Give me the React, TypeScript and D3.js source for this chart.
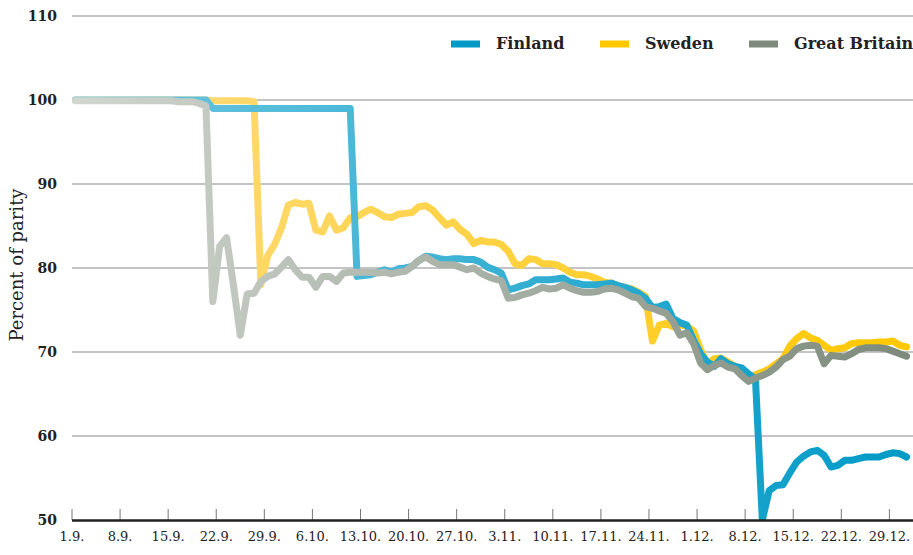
import React from "react";
import * as d3 from "d3";

// daily values, 1.9.1931 - 31.12.1931, percent of parity
const startDate = new Date(1931, 8, 1);
const endDate = new Date(1932, 0, 1);

const finland = [
  100, 100, 100, 100, 100, 100, 100, 100, 100, 100,
  100, 100, 100, 100, 100, 100, 100, 100, 100, 100,
  99, 99, 99, 99, 99, 99, 99, 99, 99, 99,
  99, 99, 99, 99, 99, 99, 99, 99, 99, 99, 99,
  79.0, 79.1, 79.2, 79.5, 79.8, 79.5, 79.9, 80.0, 80.2, 80.9,
  81.4, 81.3, 81.1, 81.0, 81.1, 81.1, 81.0, 81.0, 80.7, 80.1,
  79.8, 79.4, 77.4, 77.6, 77.9, 78.1, 78.6, 78.6, 78.6, 78.7,
  78.8, 78.3, 78.2, 78.0, 78.0, 78.0, 78.1, 78.2, 77.9, 77.7,
  77.4, 77.0, 76.4, 75.3, 75.4, 75.7, 74.0, 73.5, 73.2, 71.4,
  69.8, 68.8, 68.3, 69.2, 68.6, 68.3, 68.1, 67.4, 66.8, 50.0,
  53.5, 54.1, 54.2, 55.6, 56.9, 57.6, 58.1, 58.3, 57.7, 56.3,
  56.5, 57.1, 57.1, 57.3, 57.5, 57.5, 57.5, 57.8, 58.0, 57.9,
  57.5,
];

const sweden = [
  100, 100, 100, 100, 100, 100, 100, 100, 100, 100,
  100, 100, 100, 100, 100, 100, 100, 100, 100, 100,
  99.9, 99.9, 99.9, 99.9, 99.9, 99.9, 99.8,
  78.0, 81.5, 82.8, 84.8,
  87.5, 87.8, 87.6, 87.7, 84.5, 84.3, 86.2, 84.5, 84.8, 86.0,
  86.1, 86.6, 87.0, 86.6, 86.1, 86.0, 86.4, 86.5, 86.6, 87.3,
  87.4, 86.9, 86.0, 85.1, 85.5, 84.6, 84.0, 82.9, 83.3, 83.1,
  83.1, 82.8, 82.0, 80.5, 80.3, 81.1, 81.0, 80.5, 80.5, 80.4,
  80.0, 79.5, 79.2, 79.2, 79.0, 78.7, 78.3, 78.2, 77.9, 77.7,
  77.5, 77.1, 76.6, 71.3, 73.2, 73.4, 73.0, 73.2, 73.1, 72.5,
  70.3, 68.6, 69.2, 69.3, 68.8, 68.3, 67.8, 66.8, 67.3, 67.6,
  68.0, 68.6, 69.2, 70.7, 71.6, 72.2, 71.7, 71.4, 70.8, 70.2,
  70.4, 70.5, 71.0, 71.1, 71.1, 71.1, 71.2, 71.2, 71.3, 70.8,
  70.6,
];

const britain = [
  99.9, 99.9, 99.9, 99.9, 99.9, 99.9, 99.9, 99.9, 99.9, 99.9,
  99.9, 99.9, 99.9, 99.9, 99.9, 99.8, 99.8, 99.8, 99.6, 99.3,
  76.0, 82.6, 83.6, 78.0, 72.0, 76.9, 77.0, 78.4, 79.0, 79.3,
  80.1, 81.0, 79.8, 78.9, 78.9, 77.7, 79.0, 79.0, 78.4, 79.4,
  79.5, 79.5, 79.5, 79.5, 79.4, 79.5, 79.3, 79.5, 79.6, 80.2,
  80.9, 81.3, 80.8, 80.4, 80.4, 80.4, 80.1, 79.8, 80.0, 79.4,
  79.0, 78.7, 78.5, 76.4, 76.5, 76.8, 77.0, 77.3, 77.7, 77.5,
  77.6, 78.0, 77.6, 77.3, 77.1, 77.1, 77.2, 77.5, 77.6, 77.4,
  77.0, 76.6, 76.4, 75.4, 75.2, 74.9, 74.6, 73.6, 72.0, 72.3,
  71.0, 68.7, 67.9, 68.4, 68.7, 68.2, 68.0, 67.2, 66.5, 66.9,
  67.2, 67.6, 68.2, 69.1, 69.5, 70.4, 70.7, 70.8, 70.7, 68.6,
  69.6, 69.5, 69.4, 69.8, 70.3, 70.5, 70.5, 70.5, 70.4, 70.1,
  69.8, 69.5,
];

const yTicks = [50, 60, 70, 80, 90, 100, 110];
const legendNames = ["Finland", "Sweden", "Great Britain"];

const series = [
  { id: "swe", name: "Sweden", values: sweden, light: "#ffdc85", color: "#ffc800" },
  { id: "fin", name: "Finland", values: finland, light: "#70c7e0", color: "#009ac6" },
  { id: "gbr", name: "Great Britain", values: britain, light: "#d1d6cf", color: "#7d8a7b" },
];

const W = 913;
const H = 555;
const left = 72;
const right = 913;
const font = "'DejaVu Serif', serif";

export default function App() {
  const x = d3.scaleTime().domain([startDate, endDate]).range([left, 910]);
  const y = d3.scaleLinear().domain([50, 110]).range([520, 16]);

  const tickDates = d3.range(0, 120, 7).map((d) => d3.timeDay.offset(startDate, d));
  const fmt = d3.timeFormat("%-d.%-m.");

  // each daily value sits at midday
  const line = d3
    .line<number>()
    .x((_, i) => x(d3.timeHour.offset(startDate, i * 24 + 12)))
    .y((d) => y(d));

  const legendX = [451, 600, 749];

  return (
    <svg width={W} height={H} style={{ position: "absolute", left: 0, top: 0 }}>
      <defs>
        {series.map((s) => (
          <linearGradient key={s.id} id={"grad-" + s.id} gradientUnits="userSpaceOnUse" x1={left} x2={910} y1={0} y2={0}>
            <stop offset="0%" stopColor={s.light} />
            <stop offset="100%" stopColor={s.color} />
          </linearGradient>
        ))}
        <clipPath id="plot">
          <rect x={0} y={0} width={W} height={520} />
        </clipPath>
      </defs>

      {/* grid */}
      {yTicks.filter((t) => t > 50).map((t) => (
        <line key={t} x1={left} x2={right} y1={y(t)} y2={y(t)} stroke="#8a8a8a" strokeWidth={1.2} />
      ))}
      {yTicks.map((t) => (
        <text key={"l" + t} x={57} y={y(t) + 5} textAnchor="end" fontFamily={font} fontWeight="bold" fontSize={14} fill="#222">
          {t}
        </text>
      ))}

      {/* x ticks */}
      {tickDates.map((d, i) => (
        <g key={i}>
          <line x1={x(d)} x2={x(d)} y1={509} y2={520} stroke="#777" strokeWidth={1} />
          <text x={x(d)} y={541} textAnchor="middle" fontFamily={font} fontSize={13} fill="#222">
            {fmt(d)}
          </text>
        </g>
      ))}

      {/* lines */}
      <g clipPath="url(#plot)">
        {series.map((s) => (
          <path
            key={s.id}
            d={line(s.values) || ""}
            fill="none"
            stroke={`url(#grad-${s.id})`}
            strokeWidth={7}
            strokeLinejoin="round"
            strokeLinecap="round"
          />
        ))}
      </g>

      <line x1={left} x2={right} y1={520.5} y2={520.5} stroke="#222" strokeWidth={2.5} />

      {/* legend */}
      {legendNames.map((n, i) => {
        const s = series.find((q) => q.name === n)!;
        return (
          <g key={n}>
            <rect x={legendX[i]} y={40.5} width={29} height={7} fill={s.color} />
            <text x={legendX[i] + 45} y={49} fontFamily={font} fontWeight="bold" fontSize={16} fill="#222">
              {n}
            </text>
          </g>
        );
      })}

      <text
        transform="translate(23,265) rotate(-90)"
        textAnchor="middle"
        fontFamily={font}
        fontSize={18}
        fill="#222"
      >
        Percent of parity
      </text>
    </svg>
  );
}
